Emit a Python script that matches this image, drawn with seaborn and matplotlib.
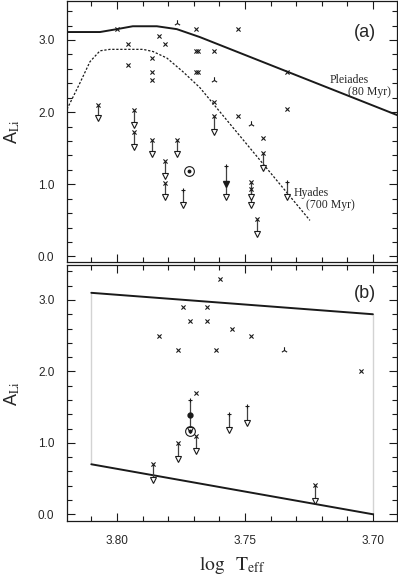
import matplotlib
matplotlib.use('Agg')
import matplotlib.pyplot as plt
from matplotlib.ticker import MultipleLocator, FormatStrFormatter
import seaborn as sns

# ---- panel (a): model curves ----
pleiades_logt = [3.8195, 3.8066, 3.8000, 3.7938, 3.7844, 3.7766, 3.7676, 3.6906]
pleiades_ali = [3.11, 3.11, 3.15, 3.19, 3.19, 3.15, 3.04, 1.96]
hyades_logt = [3.8195, 3.8145, 3.8105, 3.8066, 3.8027, 3.7898, 3.7859, 3.7805, 3.7742, 3.7676, 3.7246]
hyades_ali = [2.04, 2.40, 2.70, 2.85, 2.87, 2.87, 2.84, 2.75, 2.56, 2.34, 0.50]

# ---- panel (a): stars ----
a_det_logt = [3.8001, 3.7956, 3.7956, 3.7837, 3.7813, 3.7861, 3.7861, 3.7861, 3.7691, 3.7691,
              3.7684, 3.7691, 3.7684, 3.7526, 3.7621, 3.7621, 3.7526, 3.7431, 3.7335, 3.7335]
a_det_ali = [3.15, 2.95, 2.65, 3.05, 2.95, 2.75, 2.55, 2.44, 3.15, 2.85,
             2.85, 2.55, 2.55, 3.15, 2.85, 2.14, 1.94, 1.64, 2.55, 2.04]
a_tri_logt = [3.7767, 3.7621, 3.7478]
a_tri_ali = [3.24, 2.44, 1.84]
# upper limits: x-capped
a_ulx_logt = [3.8073, 3.7932, 3.7932, 3.7861, 3.7764, 3.7813, 3.7813, 3.7621, 3.7431, 3.7478, 3.7478, 3.7454]
a_ulx_top = [2.10, 2.03, 1.73, 1.62, 1.62, 1.32, 1.02, 1.94, 1.43, 1.03, 0.93, 0.52]
a_ulx_bot = [1.92, 1.82, 1.52, 1.42, 1.42, 1.11, 0.82, 1.73, 1.22, 0.82, 0.71, 0.31]
# upper limits: plus-capped
a_ulp_logt = [3.7741, 3.7572, 3.7335]
a_ulp_top = [0.92, 1.25, 1.03]
a_ulp_bot = [0.71, 0.82, 0.82]
a_filled_logt = [3.7572]
a_filled_ali = [1.01]
a_sun_logt = [3.7718]
a_sun_ali = [1.18]

# ---- panel (b) ----
box_logt = [3.81, 3.70, 3.70, 3.81, 3.81]
box_ali = [3.10, 2.80, 0.00, 0.70, 3.10]
b_det_logt = [3.7835, 3.7763, 3.7741, 3.7715, 3.7691, 3.7598, 3.7647, 3.7647, 3.7550, 3.7478, 3.7611, 3.7048]
b_det_ali = [2.50, 2.30, 2.90, 2.71, 1.70, 3.30, 2.90, 2.71, 2.60, 2.50, 2.30, 2.00]
b_tri_logt = [3.7347]
b_tri_ali = [2.30]
b_ulx_logt = [3.7858, 3.7763, 3.7691, 3.7227]
b_ulx_top = [0.70, 1.00, 1.10, 0.41]
b_ulx_bot = [0.48, 0.78, 0.88, 0.18]
b_ulp_logt = [3.7561, 3.7490, 3.7715]
b_ulp_top = [1.41, 1.51, 1.60]
b_ulp_bot = [1.18, 1.28, 1.18]
b_filled_logt = [3.7715]
b_filled_ali = [1.39]
b_sun_logt = [3.7715]
b_sun_ali = [1.16]

sns.set_theme(style='ticks')
plt.rcParams['font.family'] = ['Liberation Sans', 'DejaVu Sans']
plt.rcParams['mathtext.fontset'] = 'stix'

fig = plt.figure(figsize=(3.98, 5.84), dpi=100)
ax_a = fig.add_axes([0.1683, 0.5514, 0.8291, 0.4469])
ax_b = fig.add_axes([0.1683, 0.1079, 0.8291, 0.4384])


def draw_limits(ax, logt, top, bot, cap):
    ax.vlines(logt, bot, top, color='0.25', lw=0.9, zorder=2)
    if cap == 'x':
        sns.scatterplot(x=logt, y=top, marker='x', s=9, color='k', linewidth=0.8, ax=ax, zorder=3)
    else:
        ax.plot(logt, top, '+', color='k', ms=3.5, mew=0.8, ls='none', zorder=3)
    ax.plot(logt, bot, 'v', mfc='white', mec='k', ms=3.8, mew=0.8, ls='none', zorder=3)


def draw_sun(ax, logt, ali):
    ax.plot(logt, ali, 'o', mfc='none', mec='k', ms=7, mew=0.8, ls='none', zorder=4)
    ax.plot(logt, ali, 'o', color='k', ms=1.8, ls='none', zorder=4)


# panel (a)
sns.lineplot(x=pleiades_logt, y=pleiades_ali, sort=False, color='k', lw=1.4, ax=ax_a)
sns.lineplot(x=hyades_logt, y=hyades_ali, sort=False, color='k', lw=0.9,
             linestyle=(0, (1.8, 1.4)), ax=ax_a)
sns.scatterplot(x=a_det_logt, y=a_det_ali, marker='x', s=9, color='k', linewidth=0.8, ax=ax_a)
sns.scatterplot(x=a_tri_logt, y=a_tri_ali, marker='2', s=22, color='k', linewidth=0.8, ax=ax_a)
draw_limits(ax_a, a_ulx_logt, a_ulx_top, a_ulx_bot, 'x')
draw_limits(ax_a, a_ulp_logt, a_ulp_top, a_ulp_bot, '+')
ax_a.plot(a_filled_logt, a_filled_ali, 'v', color='k', ms=4, ls='none', zorder=3)
draw_sun(ax_a, a_sun_logt, a_sun_ali)

lab = 'Liberation Serif'
ax_a.text(3.7168, 2.44, 'Pleiades', family=lab, fontsize=8.5, ha='left', va='center')
ax_a.text(3.7098, 2.28, '(80 Myr)', family=lab, fontsize=8.5, ha='left', va='center')
ax_a.text(3.7309, 0.88, 'Hyades', family=lab, fontsize=8.5, ha='left', va='center')
ax_a.text(3.7262, 0.71, '(700 Myr)', family=lab, fontsize=8.5, ha='left', va='center')
ax_a.text(3.7031, 3.11, '(a)', fontsize=13, ha='center', va='center')

# panel (b)
sns.lineplot(x=box_logt[0:2], y=box_ali[0:2], sort=False, color='k', lw=1.4, ax=ax_b)
sns.lineplot(x=box_logt[2:4], y=box_ali[2:4], sort=False, color='k', lw=1.4, ax=ax_b)
sns.lineplot(x=box_logt[1:3], y=box_ali[1:3], sort=False, color='0.15', lw=0.9,
             linestyle=(0, (1, 1.6)), ax=ax_b)
sns.lineplot(x=box_logt[3:5], y=box_ali[3:5], sort=False, color='0.15', lw=0.9,
             linestyle=(0, (1, 1.6)), ax=ax_b)
sns.scatterplot(x=b_det_logt, y=b_det_ali, marker='x', s=9, color='k', linewidth=0.8, ax=ax_b)
sns.scatterplot(x=b_tri_logt, y=b_tri_ali, marker='2', s=22, color='k', linewidth=0.8, ax=ax_b)
draw_limits(ax_b, b_ulx_logt, b_ulx_top, b_ulx_bot, 'x')
draw_limits(ax_b, b_ulp_logt, b_ulp_top, b_ulp_bot, '+')
ax_b.plot(b_filled_logt, b_filled_ali, 'o', color='k', ms=3.5, ls='none', zorder=3)
draw_sun(ax_b, b_sun_logt, b_sun_ali)
ax_b.text(3.7031, 3.09, '(b)', fontsize=13, ha='center', va='center')

ax_a.set_ylim(-0.076, 3.54)
ax_b.set_ylim(-0.094, 3.49)
for ax in (ax_a, ax_b):
    ax.set_xlim(3.8195, 3.6906)
    ax.xaxis.set_major_locator(MultipleLocator(0.05))
    ax.xaxis.set_minor_locator(MultipleLocator(0.01))
    ax.yaxis.set_major_locator(MultipleLocator(1.0))
    ax.yaxis.set_minor_locator(MultipleLocator(0.2))
    ax.xaxis.set_major_formatter(FormatStrFormatter('%.2f'))
    ax.yaxis.set_major_formatter(FormatStrFormatter('%.1f'))
    ax.tick_params(which='both', direction='in', top=True, right=True, width=0.8,
                   color='k', labelsize=8.5)
    ax.tick_params(which='major', length=5.5)
    ax.tick_params(which='minor', length=3.5)
    ax.tick_params(axis='x', pad=10)
    ax.tick_params(axis='y', pad=9)
    for sp in ax.spines.values():
        sp.set_linewidth(0.9)
        sp.set_color('k')
    ax.set_ylabel(r'A$_{\rm Li}$', fontsize=13)
    ax.yaxis.set_label_coords(-0.135, 0.5)

ax_a.tick_params(labelbottom=False)
ax_b.set_xlabel(r'$\log\ \ \mathrm{T}_{\mathrm{eff}}$', fontsize=14, labelpad=5)

fig.savefig('out.png', dpi=100)
